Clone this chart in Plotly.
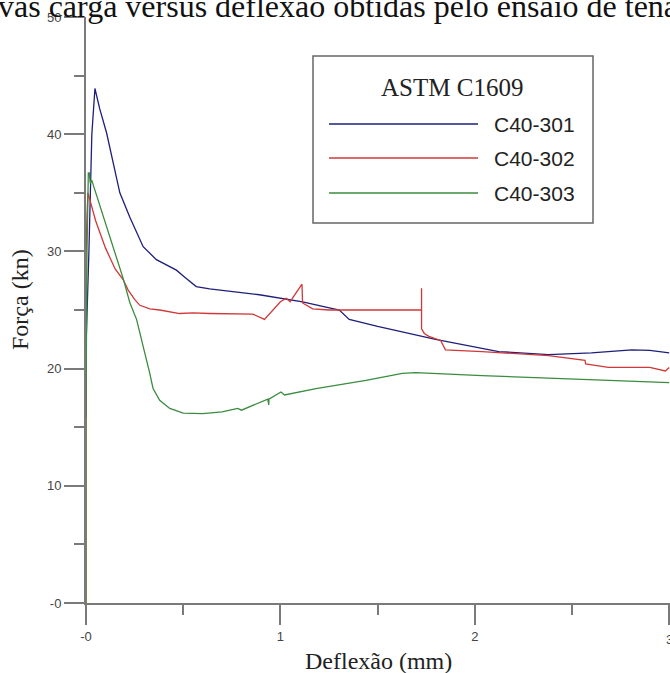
import plotly.graph_objects as go

# ---------------- data ----------------
x_301 = [0.0, 0.0, 0.015, 0.03, 0.046, 0.07, 0.106, 0.14, 0.174, 0.226, 0.294, 0.362, 0.42,
         0.465, 0.508, 0.567, 0.636, 0.892, 1.114, 1.303, 1.354, 1.5, 1.798, 2.123, 2.379,
         2.6, 2.807, 2.9, 3.0]
y_301 = [15.8, 21.8, 30.0, 40.0, 43.9, 42.2, 40.1, 37.5, 35.0, 32.9, 30.4, 29.3, 28.8,
         28.4, 27.8, 27.0, 26.8, 26.3, 25.7, 25.0, 24.2, 23.6, 22.5, 21.45, 21.2,
         21.35, 21.6, 21.55, 21.35]

x_302 = [0.0, 0.0, 0.005, 0.01, 0.02, 0.05, 0.1, 0.15, 0.191, 0.217, 0.25, 0.277, 0.328,
         0.379, 0.482, 0.55, 0.636, 0.75, 0.858, 0.918, 0.96, 1.0, 1.03, 1.05, 1.07,
         1.111, 1.114, 1.166, 1.25, 1.303, 1.726, 1.726, 1.726, 1.74, 1.764, 1.824, 1.849,
         2.037, 2.2, 2.379, 2.567, 2.57, 2.687, 2.9, 2.98, 3.0]
y_302 = [0.0, 29.3, 33.0, 35.0, 34.4, 32.6, 30.3, 28.5, 27.6, 26.7, 25.9, 25.4, 25.1,
         25.0, 24.7, 24.75, 24.7, 24.7, 24.65, 24.2, 25.0, 25.7, 26.0, 25.7, 26.2,
         27.2, 25.6, 25.1, 25.0, 25.0, 25.0, 26.85, 23.4, 23.0, 22.75, 22.4, 21.6,
         21.45, 21.3, 21.1, 20.7, 20.4, 20.1, 20.1, 19.8, 20.1]

x_303 = [0.0, 0.0, 0.005, 0.012, 0.017, 0.022, 0.029, 0.1, 0.191, 0.226, 0.26, 0.328, 0.345,
         0.379, 0.431, 0.5, 0.6, 0.7, 0.78, 0.8, 0.841, 0.935, 0.94, 0.941, 1.003, 1.021,
         1.183, 1.44, 1.627, 1.696, 2.037, 2.55, 3.0]
y_303 = [0.0, 16.0, 30.0, 36.7, 36.7, 35.8, 36.1, 32.5, 27.7, 25.6, 24.2, 19.6, 18.3,
         17.3, 16.6, 16.2, 16.15, 16.3, 16.6, 16.45, 16.75, 17.4, 16.9, 17.4, 18.0, 17.75,
         18.3, 19.0, 19.6, 19.65, 19.4, 19.1, 18.8]

series_names = ["C40-301", "C40-302", "C40-303"]
series_colors = ["#1f1f7a", "#d03838", "#3a8c3e"]

x_tickvals = [0, 1, 2]
x_ticktext = ["-0", "1", "2"]
x_edge_tick = 3          # last x tick, at the right edge of the picture
x_edge_label = "3"
x_minor = [0.5, 1.5, 2.5]
y_tickvals = [0, 10, 20, 30, 40, 50]
y_ticktext = ["-0", "10", "20", "30", "40", "50"]
y_minor = [5, 15, 25, 35, 45]

legend_title = "ASTM C1609"
x_title = "Deflexão (mm)"
y_title = "Força (kn)"
caption = "vas carga versus deflexão obtidas pelo ensaio de tenacidade"

# ---------------- geometry ----------------
W, H = 670, 673
ML, MR, MT, MB = 86, 0, 17, 70
PW, PH = W - ML - MR, H - MT - MB


def px(x):
    return (x - ML) / PW


def py(y):
    return (H - MB - y) / PH


AX = "#7a7a7a"
SERIF = "Liberation Serif, Times New Roman, serif"
SANS = "Liberation Sans, Arial, sans-serif"
TICKFONT = dict(family=SANS, size=13, color="#444")

fig = go.Figure()
for xs, ys, nm, col in zip([x_301, x_302, x_303], [y_301, y_302, y_303],
                           series_names, series_colors):
    fig.add_trace(go.Scatter(x=xs, y=ys, mode="lines", name=nm,
                             line=dict(color=col, width=1.3), showlegend=False))

axis_common = dict(showgrid=False, zeroline=False, showline=True, linecolor=AX,
                   linewidth=2, ticks="outside", ticklen=20, tickwidth=2, tickcolor=AX,
                   tickfont=TICKFONT, layer="below traces")

fig.update_xaxes(range=[0, 3.004], tickmode="array",
                 tickvals=x_tickvals + [x_edge_tick], ticktext=x_ticktext + [""],
                 minor=dict(tickmode="array", tickvals=x_minor, ticks="outside",
                            ticklen=10, tickwidth=2, tickcolor=AX),
                 **axis_common)
fig.update_yaxes(range=[0, 50], tickmode="array", tickvals=y_tickvals, ticktext=y_ticktext,
                 minor=dict(tickmode="array", tickvals=y_minor, ticks="outside",
                            ticklen=10, tickwidth=2, tickcolor=AX),
                 **axis_common)

shapes = [dict(type="rect", xref="paper", yref="paper",
               x0=px(313), x1=px(593), y0=py(223), y1=py(56),
               line=dict(color="#666", width=1.5), fillcolor="white")]
annotations = [
    dict(text=legend_title, xref="paper", yref="paper", x=px(452), y=py(87),
         showarrow=False, xanchor="center", yanchor="middle",
         font=dict(family=SERIF, size=25, color="#222")),
]
for i, (nm, col) in enumerate(zip(series_names, series_colors)):
    ly = [124, 158, 193][i]
    shapes.append(dict(type="line", xref="paper", yref="paper",
                       x0=px(329), x1=px(478), y0=py(ly), y1=py(ly),
                       line=dict(color=col, width=1.5)))
    annotations.append(dict(text=nm, xref="paper", yref="paper", x=px(492), y=py(ly),
                            showarrow=False, xanchor="left", yanchor="middle",
                            font=dict(family=SANS, size=21, color="#222")))

annotations += [
    dict(text=x_edge_label, xref="x", yref="paper", x=x_edge_tick, y=py(639),
         showarrow=False, xanchor="center", yanchor="middle", font=TICKFONT),
    dict(text=x_title, xref="paper", yref="paper", x=px(378), y=py(661),
         showarrow=False, xanchor="center", yanchor="middle",
         font=dict(family=SERIF, size=24, color="#222")),
    dict(text=y_title, xref="paper", yref="paper", x=px(20), y=py(300),
         showarrow=False, xanchor="center", yanchor="middle", textangle=-90,
         font=dict(family=SERIF, size=24, color="#222")),
    dict(text=caption, xref="paper", yref="paper", x=px(-4), y=py(6),
         showarrow=False, xanchor="left", yanchor="middle",
         font=dict(family=SERIF, size=32, color="#111")),
]

fig.update_layout(width=W, height=H, margin=dict(l=ML, r=MR, t=MT, b=MB, pad=0),
                  plot_bgcolor="white", paper_bgcolor="white",
                  shapes=shapes, annotations=annotations, showlegend=False)

fig.write_html("out.html", config={"displayModeBar": False},
               post_script="document.body.style.margin='0';"
                           "document.body.style.overflow='hidden';")
